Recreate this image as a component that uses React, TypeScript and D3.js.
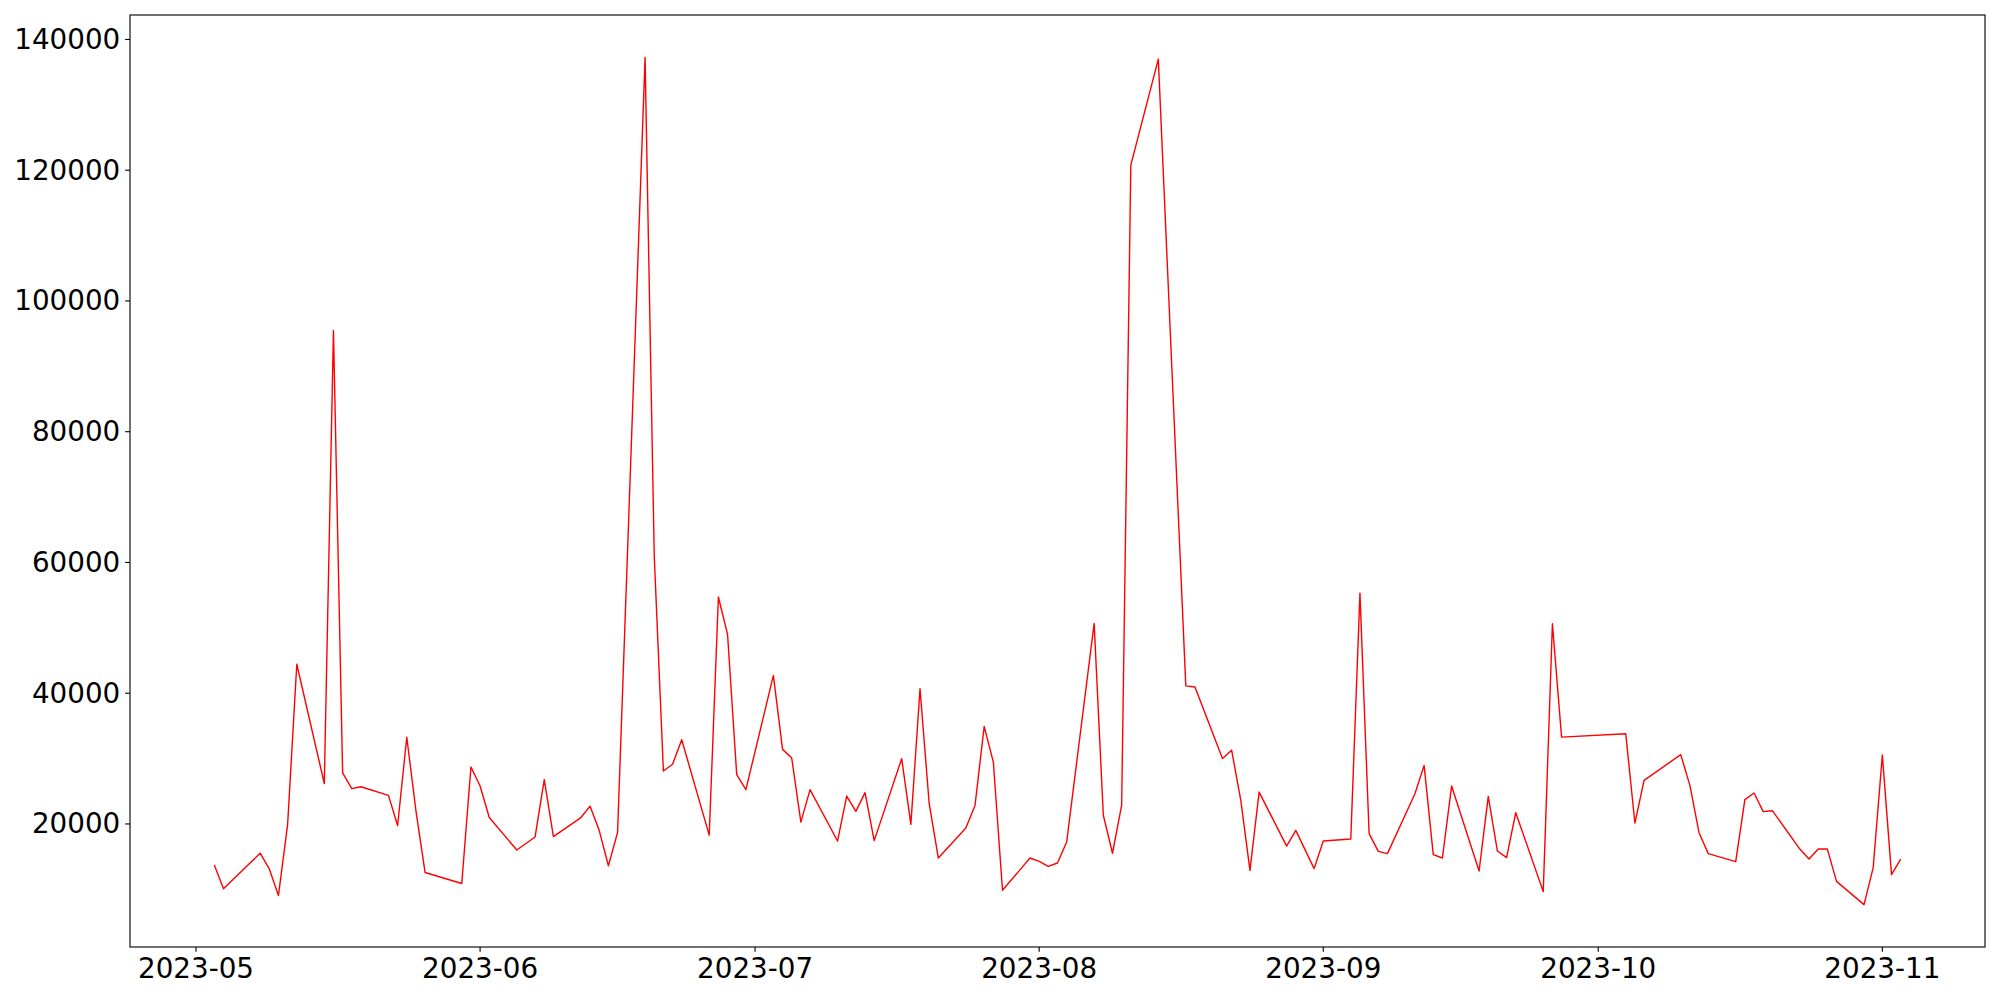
import React from "react";
import * as d3 from "d3";

const dates: string[] = [
  "2023-05-03","2023-05-04","2023-05-08","2023-05-09","2023-05-10","2023-05-11","2023-05-12",
  "2023-05-15","2023-05-16","2023-05-17","2023-05-18","2023-05-19",
  "2023-05-22","2023-05-23","2023-05-24","2023-05-25","2023-05-26",
  "2023-05-30","2023-05-31","2023-06-01","2023-06-02",
  "2023-06-05","2023-06-07","2023-06-08","2023-06-09",
  "2023-06-12","2023-06-13","2023-06-14","2023-06-15","2023-06-16",
  "2023-06-19","2023-06-20","2023-06-21","2023-06-22","2023-06-23",
  "2023-06-26","2023-06-27","2023-06-28","2023-06-29","2023-06-30",
  "2023-07-03","2023-07-04","2023-07-05","2023-07-06","2023-07-07",
  "2023-07-10","2023-07-11","2023-07-12","2023-07-13","2023-07-14",
  "2023-07-17","2023-07-18","2023-07-19","2023-07-20","2023-07-21",
  "2023-07-24","2023-07-25","2023-07-26","2023-07-27","2023-07-28",
  "2023-07-31","2023-08-01","2023-08-02","2023-08-03","2023-08-04",
  "2023-08-07","2023-08-08","2023-08-09","2023-08-10","2023-08-11",
  "2023-08-14","2023-08-17","2023-08-18",
  "2023-08-21","2023-08-22","2023-08-23","2023-08-24","2023-08-25",
  "2023-08-28","2023-08-29","2023-08-31","2023-09-01",
  "2023-09-04","2023-09-05","2023-09-06","2023-09-07","2023-09-08",
  "2023-09-11","2023-09-12","2023-09-13","2023-09-14","2023-09-15",
  "2023-09-18","2023-09-19","2023-09-20","2023-09-21","2023-09-22",
  "2023-09-25","2023-09-26","2023-09-27",
  "2023-10-04","2023-10-05","2023-10-06",
  "2023-10-10","2023-10-11","2023-10-12","2023-10-13",
  "2023-10-16","2023-10-17","2023-10-18","2023-10-19","2023-10-20",
  "2023-10-23","2023-10-24","2023-10-25","2023-10-26","2023-10-27",
  "2023-10-30","2023-10-31","2023-11-01","2023-11-02","2023-11-03",
];

const values: number[] = [
  13730, 10090, 15530, 13120, 9070, 19950, 44430,
  26180, 95470, 27810, 25400, 25690,
  24370, 19770, 33260, 22000, 12570,
  10890, 28720, 25810, 20980,
  16020, 18010, 26790, 18060,
  20980, 22720, 18990, 13610, 18720,
  137260, 61000, 28100, 29140, 32880,
  18290, 54720, 48990, 27540, 25250,
  42720, 31410, 30080, 20290, 25250,
  17390, 24270, 21930, 24790, 17450,
  29990, 19940, 40690, 23100, 14790,
  19370, 22840, 34920, 29470, 9850,
  14790, 14280, 13520, 14030, 17250,
  50670, 21330, 15520, 22890, 120780,
  137000, 41120, 40950,
  30000, 31280, 23610, 12900, 24880,
  16620, 19020, 13170, 17390,
  17690, 55310, 18520, 15810, 15460,
  24630, 28960, 15310, 14790, 25800,
  12800, 24220, 15860, 14850, 21730,
  9650, 50630, 33290,
  33810, 20140, 26670,
  30600, 25900, 18670, 15460,
  14230, 23720, 24730, 21880, 22030,
  16160, 14630, 16160, 16160, 11220,
  7660, 13320, 30540, 12250, 14630,
];

const yTickValues: number[] = [20000, 40000, 60000, 80000, 100000, 120000, 140000];
const xTickLabels: string[] = ["2023-05", "2023-06", "2023-07", "2023-08", "2023-09", "2023-10", "2023-11"];

const W = 2000;
const H = 1000;
const M = { left: 130, right: 1985, top: 15, bottom: 947 };
const FONT = "'DejaVu Sans', sans-serif";
const FS = 27.78;
const TICK = 4.86;
const PAD = 4.86;

export default function App() {
  const parse = d3.utcParse("%Y-%m-%d");
  const parseMonth = d3.utcParse("%Y-%m");
  const data = dates.map((d, i) => ({ date: parse(d) as Date, value: values[i] }));

  const [x0, x1] = d3.extent(data, (d) => d.date) as [Date, Date];
  const xPad = (x1.getTime() - x0.getTime()) * 0.05;
  const x = d3
    .scaleUtc()
    .domain([new Date(x0.getTime() - xPad), new Date(x1.getTime() + xPad)])
    .range([M.left, M.right]);

  const [v0, v1] = d3.extent(values) as [number, number];
  const yPad = (v1 - v0) * 0.05;
  const y = d3.scaleLinear().domain([v0 - yPad, v1 + yPad]).range([M.bottom, M.top]);

  const line = d3
    .line<{ date: Date; value: number }>()
    .x((d) => x(d.date))
    .y((d) => y(d.value));

  const xTicks = xTickLabels.map((l) => ({ label: l, date: parseMonth(l) as Date }));

  return (
    <svg
      width={W}
      height={H}
      style={{ position: "absolute", left: 0, top: 0, background: "#fff" }}
      fontFamily={FONT}
    >
      <rect x={0} y={0} width={W} height={H} fill="#fff" />
      <path d={line(data) || ""} fill="none" stroke="#ff0000" strokeWidth={1.4} strokeLinejoin="round" strokeLinecap="butt" />
      <rect
        x={M.left}
        y={M.top}
        width={M.right - M.left}
        height={M.bottom - M.top}
        fill="none"
        stroke="#000"
        strokeWidth={1.11}
      />
      {yTickValues.map((v) => (
        <g key={v} transform={`translate(0,${y(v)})`}>
          <line x1={M.left - TICK} x2={M.left} stroke="#000" strokeWidth={1.11} />
          <text
            x={M.left - TICK - PAD}
            textAnchor="end"
            dominantBaseline="central"
            fontSize={FS}
            fill="#000"
          >
            {v}
          </text>
        </g>
      ))}
      {xTicks.map((t) => (
        <g key={t.label} transform={`translate(${x(t.date)},0)`}>
          <line y1={M.bottom} y2={M.bottom + TICK} stroke="#000" strokeWidth={1.11} />
          <text
            y={M.bottom + TICK + PAD}
            textAnchor="middle"
            dominantBaseline="hanging"
            fontSize={FS}
            fill="#000"
          >
            {t.label}
          </text>
        </g>
      ))}
    </svg>
  );
}
